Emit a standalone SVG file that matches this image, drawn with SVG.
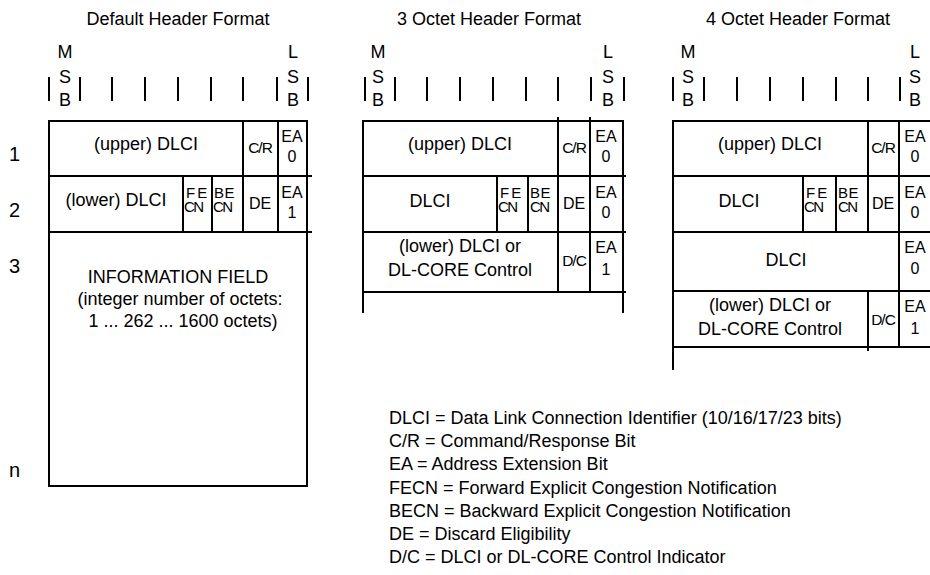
<svg xmlns="http://www.w3.org/2000/svg" width="930" height="575" viewBox="0 0 930 575">
<style>
text{font-family:"Liberation Sans",Arial,sans-serif;fill:#000}
.t{font-size:18px;text-anchor:middle}
.s{font-size:16px;text-anchor:middle}
.cn{font-size:15px;letter-spacing:-1.5px}
.fe{font-size:15px;letter-spacing:2px}
.be{font-size:15px;letter-spacing:0.5px}
.cr{font-size:15.5px;text-anchor:middle;letter-spacing:-1px}
.row{font-size:20px}
.leg{font-size:18px}
.ln{stroke:#000;stroke-width:2;fill:none}
</style>
<rect width="930" height="575" fill="#fff"/>

<g id="row-labels">
<text class="row" x="9" y="161">1</text>
<text class="row" x="9" y="217">2</text>
<text class="row" x="9" y="273">3</text>
<text class="row" x="9" y="477">n</text>
</g>

<g id="default-header">
<text class="t" x="178" y="25">Default Header Format</text>
<text class="t" x="65" y="58">M</text>
<text class="t" x="65" y="83">S</text>
<text class="t" x="65" y="106">B</text>
<text class="t" x="293" y="58">L</text>
<text class="t" x="293" y="83">S</text>
<text class="t" x="293" y="106">B</text>
<path class="ln" d="M49 77V101M80 77V101M112 77V101M145 77V101M178 77V101M211 77V101M243 77V101M277 77V101M308 77V101"/>
<rect class="ln" x="49" y="121" width="258" height="365"/>
<path class="ln" d="M49 176H312M49 232H312M243 121V232M278 121V232M183 176V232M212 176V232"/>
<text class="t" x="146" y="150">(upper) DLCI</text>
<text class="cr" x="260" y="153">C/R</text>
<text class="s" x="292" y="142">EA</text>
<text class="s" x="292" y="162">0</text>
<text class="t" x="116" y="206">(lower) DLCI</text>
<text class="fe" x="186" y="198">FE</text>
<text class="cn" x="184" y="212">CN</text>
<text class="be" x="214" y="198">BE</text>
<text class="cn" x="213" y="212">CN</text>
<text class="s" x="260" y="209">DE</text>
<text class="s" x="292" y="198">EA</text>
<text class="s" x="292" y="218">1</text>
<text class="t" x="178" y="283">INFORMATION FIELD</text>
<text class="t" x="180" y="305">(integer number of octets:</text>
<text class="t" x="183" y="327">1 ... 262 ... 1600 octets)</text>
</g>

<g id="three-octet-header">
<text class="t" x="489" y="25">3 Octet Header Format</text>
<text class="t" x="378" y="58">M</text>
<text class="t" x="378" y="83">S</text>
<text class="t" x="378" y="106">B</text>
<text class="t" x="608" y="58">L</text>
<text class="t" x="608" y="83">S</text>
<text class="t" x="608" y="106">B</text>
<path class="ln" d="M365 77V101M395 77V101M427 77V101M460 77V101M493 77V101M526 77V101M558 77V101M591 77V101M624 77V101"/>
<path class="ln" d="M363 121H623M363 120V313M623 120V313M363 176H626M363 232H626M363 292H626M558 117V292M590 117V292M497 176V232M528 176V232"/>
<text class="t" x="460" y="150">(upper) DLCI</text>
<text class="cr" x="574" y="153">C/R</text>
<text class="s" x="606" y="142">EA</text>
<text class="s" x="606" y="162">0</text>
<text class="t" x="430" y="207">DLCI</text>
<text class="fe" x="500" y="198">FE</text>
<text class="cn" x="498" y="212">CN</text>
<text class="be" x="530" y="198">BE</text>
<text class="cn" x="530" y="212">CN</text>
<text class="s" x="574" y="209">DE</text>
<text class="s" x="606" y="198">EA</text>
<text class="s" x="606" y="218">0</text>
<text class="t" x="460" y="252">(lower) DLCI or</text>
<text class="t" x="460" y="276">DL-CORE Control</text>
<text class="cr" x="574" y="266">D/C</text>
<text class="s" x="606" y="253">EA</text>
<text class="s" x="606" y="275">1</text>
</g>

<g id="four-octet-header">
<text class="t" x="798" y="25">4 Octet Header Format</text>
<text class="t" x="688" y="58">M</text>
<text class="t" x="688" y="83">S</text>
<text class="t" x="688" y="106">B</text>
<text class="t" x="915" y="58">L</text>
<text class="t" x="915" y="83">S</text>
<text class="t" x="915" y="106">B</text>
<path class="ln" d="M673 77V101M704 77V101M737 77V101M770 77V101M803 77V101M836 77V101M868 77V101M900 77V101"/>
<path class="ln" d="M673 121H933M673 120V370M933 120V347M673 176H933M673 232H933M673 291H933M673 347H933M868 121V232M868 291V351M899 121V347M803 176V232M836 176V232"/>
<text class="t" x="770" y="150">(upper) DLCI</text>
<text class="cr" x="883" y="153">C/R</text>
<text class="s" x="915" y="142">EA</text>
<text class="s" x="915" y="162">0</text>
<text class="t" x="739" y="207">DLCI</text>
<text class="fe" x="806" y="198">FE</text>
<text class="cn" x="804" y="212">CN</text>
<text class="be" x="838" y="198">BE</text>
<text class="cn" x="838" y="212">CN</text>
<text class="s" x="883" y="209">DE</text>
<text class="s" x="915" y="198">EA</text>
<text class="s" x="915" y="218">0</text>
<text class="t" x="786" y="266">DLCI</text>
<text class="s" x="915" y="253">EA</text>
<text class="s" x="915" y="274">0</text>
<text class="t" x="770" y="311">(lower) DLCI or</text>
<text class="t" x="770" y="335">DL-CORE Control</text>
<text class="cr" x="883" y="325">D/C</text>
<text class="s" x="915" y="312">EA</text>
<text class="s" x="915" y="334">1</text>
</g>

<g id="legend">
<text class="leg" x="389" y="424">DLCI = Data Link Connection Identifier (10/16/17/23 bits)</text>
<text class="leg" x="389" y="447">C/R = Command/Response Bit</text>
<text class="leg" x="389" y="470">EA = Address Extension Bit</text>
<text class="leg" x="389" y="494">FECN = Forward Explicit Congestion Notification</text>
<text class="leg" x="389" y="517">BECN = Backward Explicit Congestion Notification</text>
<text class="leg" x="389" y="540">DE = Discard Eligibility</text>
<text class="leg" x="389" y="563">D/C = DLCI or DL-CORE Control Indicator</text>
</g>
<g id="connectors"/>
</svg>
